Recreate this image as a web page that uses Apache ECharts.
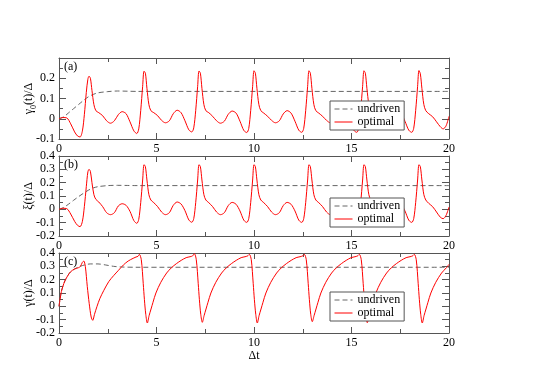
<!DOCTYPE html>
<html>
<head>
<meta charset="utf-8">
<script src="https://cdn.jsdelivr.net/npm/echarts@6/dist/echarts.min.js"></script>
<style>
  html, body { margin: 0; padding: 0; background: #fff; }
  #chart { width: 540px; height: 382px; }
</style>
</head>
<body>
<div id="chart"></div>
<script>
// time samples for panels (a) and (b)
var tAB = [
  0, 0.2, 0.4, 0.6, 0.8, 0.95, 1.08, 1.2, 1.3, 1.4, 1.48,
  1.54, 1.61, 1.69, 1.79, 1.89, 2.04, 2.24, 2.44, 2.64, 2.84, 3.04, 3.24, 3.44, 3.64, 3.84, 3.99, 4.09, 4.19, 4.29,
  4.36, 4.43, 4.51, 4.61, 4.71, 4.86, 5.06, 5.26, 5.46, 5.66, 5.86, 6.06, 6.26, 6.46, 6.66, 6.81, 6.91, 7.01, 7.11,
  7.18, 7.25, 7.33, 7.43, 7.53, 7.68, 7.88, 8.08, 8.28, 8.48, 8.68, 8.88, 9.08, 9.28, 9.48, 9.63, 9.73, 9.83, 9.93,
  10.0, 10.07, 10.15, 10.25, 10.35, 10.5, 10.7, 10.9, 11.1, 11.3, 11.5, 11.7, 11.9, 12.1, 12.3, 12.45, 12.55, 12.65, 12.75,
  12.82, 12.89, 12.97, 13.07, 13.17, 13.32, 13.52, 13.72, 13.92, 14.12, 14.32, 14.52, 14.72, 14.92, 15.12, 15.27, 15.37, 15.47, 15.57,
  15.64, 15.71, 15.79, 15.89, 15.99, 16.14, 16.34, 16.54, 16.74, 16.94, 17.14, 17.34, 17.54, 17.74, 17.94, 18.09, 18.19, 18.29, 18.39,
  18.46, 18.53, 18.61, 18.71, 18.81, 18.96, 19.16, 19.36, 19.56, 19.7, 19.85, 20
];
// (a) optimal
var optA = [
  0, 0.006, 0.004, -0.025, -0.065, -0.085, -0.09, -0.06, 0.02, 0.13, 0.195,
  0.21, 0.2, 0.14, 0.07, 0.04, 0.03, 0.015, -0.01, -0.022, -0.01, 0.02, 0.035, 0.025, -0.015, -0.06, -0.073, -0.05, 0.04, 0.16,
  0.235, 0.225, 0.15, 0.07, 0.04, 0.03, 0.015, -0.008, -0.02, -0.01, 0.025, 0.042, 0.03, -0.01, -0.055, -0.065, -0.045, 0.04, 0.16,
  0.236, 0.225, 0.15, 0.07, 0.04, 0.03, 0.012, -0.01, -0.022, -0.012, 0.022, 0.038, 0.028, -0.012, -0.058, -0.068, -0.048, 0.04, 0.16,
  0.237, 0.225, 0.15, 0.07, 0.04, 0.028, 0.012, -0.008, -0.02, -0.01, 0.024, 0.04, 0.028, -0.012, -0.057, -0.067, -0.047, 0.04, 0.16,
  0.237, 0.225, 0.15, 0.07, 0.04, 0.028, 0.012, -0.008, -0.02, -0.01, 0.024, 0.04, 0.028, -0.012, -0.057, -0.067, -0.047, 0.04, 0.16,
  0.237, 0.225, 0.15, 0.07, 0.04, 0.028, 0.012, -0.008, -0.02, -0.01, 0.024, 0.04, 0.028, -0.012, -0.057, -0.067, -0.047, 0.04, 0.16,
  0.238, 0.222, 0.15, 0.07, 0.04, 0.025, 0.01, -0.015, -0.04, -0.05, -0.035, 0.012
];
// (b) optimal
var optB = [
  0, 0.008, 0.005, -0.035, -0.09, -0.12, -0.13, -0.09, 0.02, 0.17, 0.28,
  0.3, 0.285, 0.2, 0.11, 0.075, 0.055, 0.02, -0.025, -0.04, -0.025, 0.025, 0.042, 0.03, -0.015, -0.085, -0.105, -0.075, 0.05, 0.22,
  0.335, 0.32, 0.22, 0.11, 0.07, 0.05, 0.02, -0.02, -0.04, -0.025, 0.03, 0.055, 0.04, -0.01, -0.08, -0.097, -0.07, 0.05, 0.22,
  0.335, 0.32, 0.22, 0.11, 0.07, 0.05, 0.02, -0.02, -0.04, -0.025, 0.028, 0.052, 0.038, -0.012, -0.082, -0.098, -0.07, 0.05, 0.22,
  0.335, 0.32, 0.22, 0.11, 0.07, 0.05, 0.02, -0.02, -0.04, -0.025, 0.028, 0.052, 0.038, -0.012, -0.082, -0.098, -0.07, 0.05, 0.22,
  0.335, 0.32, 0.22, 0.11, 0.07, 0.05, 0.02, -0.02, -0.04, -0.025, 0.028, 0.052, 0.038, -0.012, -0.082, -0.098, -0.07, 0.05, 0.22,
  0.335, 0.32, 0.22, 0.11, 0.07, 0.05, 0.02, -0.02, -0.04, -0.025, 0.028, 0.052, 0.038, -0.012, -0.082, -0.098, -0.07, 0.05, 0.22,
  0.335, 0.32, 0.22, 0.11, 0.07, 0.045, 0.02, -0.02, -0.06, -0.07, -0.045, 0.017
];
// time samples for panel (c)
var tC = [
  0, 0.05, 0.12, 0.2, 0.3, 0.45, 0.6, 0.8, 1.0, 1.1, 1.2, 1.27, 1.35, 1.45, 1.55, 1.65, 1.73, 1.82, 1.95, 2.1, 2.3, 2.55, 2.8, 3.05, 3.3, 3.55, 3.8, 3.95, 4.05,
  4.12, 4.22, 4.32, 4.38, 4.45, 4.53, 4.62, 4.72, 4.82, 4.97, 5.22, 5.52, 5.77, 6.02, 6.27, 6.52, 6.72, 6.85,
  6.94, 7.04, 7.14, 7.2, 7.27, 7.35, 7.44, 7.54, 7.64, 7.79, 8.04, 8.34, 8.59, 8.84, 9.09, 9.34, 9.54, 9.67,
  9.76, 9.86, 9.96, 10.02, 10.09, 10.17, 10.26, 10.36, 10.46, 10.61, 10.86, 11.16, 11.41, 11.66, 11.91, 12.16, 12.36, 12.49,
  12.58, 12.68, 12.78, 12.84, 12.91, 12.99, 13.08, 13.18, 13.28, 13.43, 13.68, 13.98, 14.23, 14.48, 14.73, 14.98, 15.18, 15.31,
  15.4, 15.5, 15.6, 15.66, 15.73, 15.81, 15.9, 16.0, 16.1, 16.25, 16.5, 16.8, 17.05, 17.3, 17.55, 17.8, 18.0, 18.13,
  18.22, 18.32, 18.42, 18.48, 18.55, 18.63, 18.72, 18.82, 18.92, 19.07, 19.32, 19.62, 19.87, 20
];
// (c) optimal
var optC = [
  0, 0.05, 0.11, 0.15, 0.19, 0.23, 0.26, 0.28, 0.29, 0.3, 0.33, 0.34, 0.3, 0.15, 0.02, -0.08, -0.105, -0.06, 0.0, 0.06, 0.12, 0.185, 0.23, 0.27, 0.31, 0.34, 0.36, 0.37, 0.375,
  0.39, 0.35, 0.17, 0.05, -0.06, -0.125, -0.07, -0.02, 0.03, 0.1, 0.18, 0.25, 0.29, 0.32, 0.345, 0.365, 0.372, 0.378,
  0.395, 0.35, 0.17, 0.05, -0.06, -0.12, -0.07, -0.02, 0.03, 0.1, 0.18, 0.25, 0.29, 0.32, 0.345, 0.365, 0.372, 0.378,
  0.39, 0.35, 0.17, 0.05, -0.06, -0.125, -0.07, -0.02, 0.03, 0.1, 0.18, 0.25, 0.29, 0.32, 0.345, 0.365, 0.372, 0.378,
  0.39, 0.35, 0.17, 0.05, -0.06, -0.115, -0.07, -0.02, 0.03, 0.1, 0.18, 0.25, 0.29, 0.32, 0.345, 0.365, 0.372, 0.378,
  0.39, 0.35, 0.17, 0.05, -0.06, -0.123, -0.07, -0.02, 0.03, 0.1, 0.18, 0.25, 0.29, 0.32, 0.345, 0.365, 0.372, 0.378,
  0.39, 0.35, 0.17, 0.05, -0.06, -0.125, -0.07, -0.02, 0.03, 0.1, 0.18, 0.25, 0.29, 0.315
];
// undriven curves
var tUAB = [0, 0.25, 0.5, 0.75, 1.0, 1.25, 1.5, 1.75, 2.0, 2.5, 3.0, 3.5, 4.0, 20];
var undA = [0, 0.01, 0.03, 0.05, 0.07, 0.09, 0.108, 0.12, 0.128, 0.134, 0.137, 0.136, 0.135, 0.135];
var undB = [0, 0.015, 0.04, 0.068, 0.095, 0.12, 0.143, 0.16, 0.17, 0.178, 0.18, 0.179, 0.178, 0.178];
var tUC = [0, 0.05, 0.12, 0.2, 0.3, 0.45, 0.6, 0.8, 1.0, 1.3, 1.6, 2.0, 2.4, 2.8, 3.2, 4.0, 20];
var undC = [0, 0.05, 0.11, 0.15, 0.19, 0.23, 0.26, 0.28, 0.295, 0.31, 0.318, 0.318, 0.31, 0.3, 0.295, 0.293, 0.293];

var panelLabels = ['(a)', '(b)', '(c)'];
var yNames = ['γ{s|0}(t)/Δ', 'ξ(t)/Δ', 'γ(t)/Δ'];
var yMin = [-0.1, -0.2, -0.2];
var yMax = [0.3, 0.4, 0.4];

function pairs(xs, ys) {
  var out = [];
  for (var i = 0; i < xs.length; i++) out.push([xs[i], ys[i]]);
  return out;
}

var FONT = '"Liberation Serif", "DejaVu Serif", serif';
var AX = '#555';
var grids = [
  { left: 59, top: 58, width: 390, height: 81 },
  { left: 59, top: 156, width: 390, height: 80 },
  { left: 59, top: 253, width: 390, height: 80 }
];

var xAxes = [], yAxes = [], titles = [], legends = [];
for (var g = 0; g < 3; g++) {
  // bottom axis with labels
  xAxes.push({
    gridIndex: g, type: 'value', position: 'bottom', min: 0, max: 20, interval: 5,
    axisLine: { onZero: false, lineStyle: { color: AX } },
    axisTick: { inside: true, length: 6, lineStyle: { color: AX } },
    minorTick: { show: true, splitNumber: 2, length: 4, lineStyle: { color: AX } },
    splitLine: { show: false },
    axisLabel: { color: '#000', fontFamily: FONT, fontSize: 12, margin: 4 },
    name: g === 2 ? 'Δt' : '', nameLocation: 'middle', nameGap: 17,
    nameTextStyle: { color: '#000', fontFamily: FONT, fontSize: 12 }
  });
  // top mirror
  xAxes.push({
    gridIndex: g, type: 'value', position: 'top', min: 0, max: 20, interval: 5,
    axisLine: { onZero: false, lineStyle: { color: AX } },
    axisTick: { inside: true, length: 6, lineStyle: { color: AX } },
    minorTick: { show: true, splitNumber: 2, length: 4, lineStyle: { color: AX } },
    splitLine: { show: false },
    axisLabel: { show: false }
  });
  (function (gi) {
    yAxes.push({
      gridIndex: gi, type: 'value', position: 'left', min: yMin[gi], max: yMax[gi], interval: 0.1,
      axisLine: { show: true, onZero: false, lineStyle: { color: AX } },
      axisTick: { inside: true, length: 7, lineStyle: { color: AX } },
      minorTick: { show: true, splitNumber: 2, length: 4, lineStyle: { color: AX } },
      splitLine: { show: false },
      axisLabel: {
        color: '#000', fontFamily: FONT, fontSize: 12, margin: 4,
        formatter: function (v) {
          if (gi === 0 && Math.abs(v - 0.3) < 1e-9) return '';
          return String(+v.toFixed(1));
        }
      },
      name: yNames[gi], nameLocation: 'middle', nameGap: 24, nameRotate: 90,
      nameMoveOverlap: false,
      nameTextStyle: {
        color: '#000', fontFamily: FONT, fontSize: 12,
        rich: { s: { fontSize: 8, fontFamily: FONT, color: '#000', verticalAlign: 'bottom', padding: [0, 0, -3, 0] } }
      }
    });
  })(g);
  yAxes.push({
    gridIndex: g, type: 'value', position: 'right', min: yMin[g], max: yMax[g], interval: 0.1,
    axisLine: { show: true, onZero: false, lineStyle: { color: AX } },
    axisTick: { inside: true, length: 7, lineStyle: { color: AX } },
    minorTick: { show: true, splitNumber: 2, length: 4, lineStyle: { color: AX } },
    splitLine: { show: false },
    axisLabel: { show: false }
  });
  titles.push({
    text: panelLabels[g], left: 64, top: grids[g].top + 3,
    textStyle: { fontFamily: FONT, fontSize: 12, fontWeight: 'normal', color: '#000' },
    padding: 0
  });
}
legends = [
  { top: 101 }, { top: 198 }, { top: 292 }
].map(function (p) {
  return {
    left: 330, top: p.top, orient: 'vertical',
    data: ['undriven', 'optimal'],
    backgroundColor: '#fff', borderColor: '#555', borderWidth: 1,
    padding: [2, 4, 2, 4], itemGap: 1, itemWidth: 18, itemHeight: 10,
    itemStyle: { opacity: 0 },
    lineStyle: { width: 1 },
    textStyle: { fontFamily: FONT, fontSize: 12, color: '#000' },
    selectedMode: false
  };
});

function undrivenSeries(idx, xs, ys) {
  return {
    name: 'undriven', type: 'line', xAxisIndex: idx * 2, yAxisIndex: idx * 2,
    data: pairs(xs, ys), smooth: 0.3, symbol: 'none', showSymbol: false,
    lineStyle: { color: '#666', width: 1, type: [5, 3] }, itemStyle: { color: '#666' }
  };
}
function optimalSeries(idx, xs, ys) {
  return {
    name: 'optimal', type: 'line', xAxisIndex: idx * 2, yAxisIndex: idx * 2,
    data: pairs(xs, ys), smooth: 0.3, symbol: 'none', showSymbol: false,
    lineStyle: { color: '#ff0000', width: 1 }, itemStyle: { color: '#ff0000' }
  };
}

var myChart = echarts.init(document.getElementById('chart'));
myChart.setOption({
  animation: false,
  backgroundColor: '#fff',
  title: titles,
  legend: legends,
  grid: grids,
  xAxis: xAxes,
  yAxis: yAxes,
  series: [
    undrivenSeries(0, tUAB, undA),
    optimalSeries(0, tAB, optA),
    undrivenSeries(1, tUAB, undB),
    optimalSeries(1, tAB, optB),
    undrivenSeries(2, tUC, undC),
    optimalSeries(2, tC, optC)
  ]
});
</script>
</body>
</html>
